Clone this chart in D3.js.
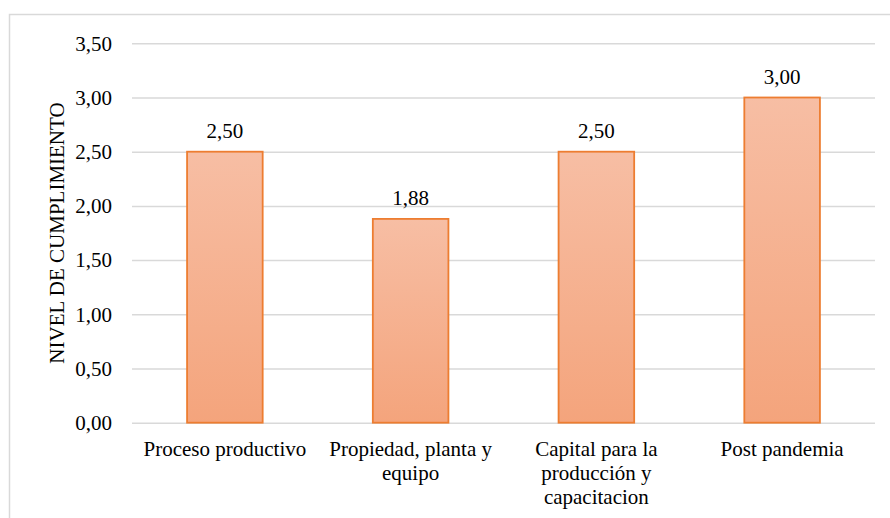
<!DOCTYPE html>
<html>
<head>
<meta charset="utf-8">
<script src="https://cdn.jsdelivr.net/npm/d3@7"></script>
<style>
  html, body { margin: 0; padding: 0; background: #fff; }
  svg { display: block; }
  svg text { font-family: "Liberation Serif", "Times New Roman", serif; }
</style>
</head>
<body>
<svg id="chart" width="890" height="518"></svg>
<script>
// Nivel de cumplimiento por dimensión
const categories = [
  "Proceso productivo",
  "Propiedad, planta y equipo",
  "Capital para la producción y capacitacion",
  "Post pandemia"
];
const values = [2.50, 1.88, 2.50, 3.00];
const yTicks = [0, 0.5, 1, 1.5, 2, 2.5, 3, 3.5];
const yTitle = "NIVEL DE CUMPLIMIENTO";

const svg = d3.select("#chart");
const W = 890, H = 518;
const margin = { left: 132, right: 15, top: 43.3, bottom: 95.3 };
const fontSize = 21;
const serif = "'Liberation Serif', 'Times New Roman', serif";

const fmt = v => d3.format(".2f")(v).replace(".", ",");

// chart area frame
svg.append("rect")
  .attr("x", 9.5).attr("y", 14.5)
  .attr("width", 1000).attr("height", 1000)
  .attr("fill", "none").attr("stroke", "#d9d9d9").attr("stroke-width", 1.5);

const x = d3.scaleBand()
  .domain(categories)
  .range([margin.left, W - margin.right])
  .paddingInner(0.593)
  .paddingOuter(0.2965);

const y = d3.scaleLinear()
  .domain([0, 3.5])
  .range([H - margin.bottom, margin.top]);

// gradient fill for bars
const defs = svg.append("defs");
const grad = defs.append("linearGradient")
  .attr("id", "barFill").attr("x1", 0).attr("y1", 0).attr("x2", 0).attr("y2", 1);
grad.append("stop").attr("offset", "0%").attr("stop-color", "#f7bea4");
grad.append("stop").attr("offset", "100%").attr("stop-color", "#f4a47c");

// horizontal gridlines with value ticks
const yAxis = d3.axisLeft(y).tickValues(yTicks).tickFormat(fmt)
  .tickSize(-(W - margin.left - margin.right)).tickPadding(20);
const gy = svg.append("g")
  .attr("transform", `translate(${margin.left},0)`)
  .call(yAxis)
  .attr("font-family", serif)
  .attr("font-size", fontSize);
gy.select(".domain").remove();
gy.selectAll(".tick line").attr("stroke", "#d9d9d9").attr("stroke-width", 1.5);
gy.selectAll(".tick text").attr("fill", "#000");

// bars
svg.append("g").selectAll("rect")
  .data(categories)
  .join("rect")
  .attr("x", d => x(d))
  .attr("y", (d, i) => y(values[i]))
  .attr("width", x.bandwidth())
  .attr("height", (d, i) => y(0) - y(values[i]))
  .attr("fill", "url(#barFill)")
  .attr("stroke", "#ed7d31")
  .attr("stroke-width", 1.8);

// value labels
svg.append("g").selectAll("text")
  .data(categories)
  .join("text")
  .attr("x", d => x(d) + x.bandwidth() / 2)
  .attr("y", (d, i) => y(values[i]) - 14)
  .attr("text-anchor", "middle")
  .attr("fill", "#000")
  .attr("font-family", serif)
  .attr("font-size", fontSize)
  .text((d, i) => fmt(values[i]));

// category labels, wrapped to the band
const maxLine = 172;
const measure = svg.append("text").attr("font-family", serif).attr("font-size", fontSize);
function wrap(label) {
  const words = label.split(" ");
  const lines = [];
  let cur = "";
  words.forEach(w => {
    const test = cur ? cur + " " + w : w;
    measure.text(test);
    if (measure.node().getComputedTextLength() > maxLine && cur) {
      lines.push(cur);
      cur = w;
    } else {
      cur = test;
    }
  });
  if (cur) lines.push(cur);
  return lines;
}
const xl = svg.append("g");
categories.forEach(c => {
  const t = xl.append("text")
    .attr("text-anchor", "middle")
    .attr("fill", "#000")
    .attr("font-family", serif)
    .attr("font-size", fontSize);
  wrap(c).forEach((ln, i) => {
    t.append("tspan")
      .attr("x", x(c) + x.bandwidth() / 2)
      .attr("y", 456 + i * 24)
      .text(ln);
  });
});
measure.remove();

// axis title
svg.append("text")
  .attr("transform", `translate(64,${(y(0) + y(3.5)) / 2}) rotate(-90)`)
  .attr("text-anchor", "middle")
  .attr("fill", "#000")
  .attr("font-family", serif)
  .attr("font-size", fontSize)
  .text(yTitle);
</script>
</body>
</html>
